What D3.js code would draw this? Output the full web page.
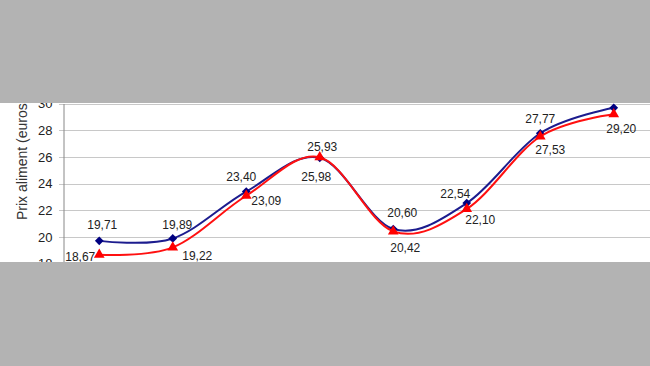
<!DOCTYPE html>
<html lang="fr">
<head>
<meta charset="UTF-8">
<script src="https://d3js.org/d3.v7.min.js"></script>
<style>
  body { margin: 0; background: #fff; font-family: "Liberation Sans", Arial, sans-serif; }
  svg { display: block; }
  .grid line { stroke: #c8c8c8; stroke-width: 1px; }
  .lbl { font-size: 12px; fill: #222; }
</style>
</head>
<body>
<div id="chart"></div>
<script>
// data
const categories = ["1", "2", "3", "4", "5", "6", "7", "8"];
const blueValues = [19.71, 19.89, 23.40, 25.93, 20.60, 22.54, 27.77, 29.68];
const redValues = [18.67, 19.22, 23.09, 25.98, 20.42, 22.10, 27.53, 29.20];
const yTicks = [18, 20, 22, 24, 26, 28, 30];

// label offsets (px) relative to each point
const blueLabelOffsets = [[3, -16], [4.5, -13.5], [-5, -15], [2.5, -11], [9, -16], [-11.5, -9], [0, -14], [0, -14]];
const redLabelOffsets = [[-19, 2], [24.5, 8.5], [20, 5], [-3.5, 20], [12, 16], [13.5, 11], [10, 13.5], [7.5, 15]];

const W = 650, H = 366;
const svg = d3.select("#chart").append("svg")
    .attr("width", W)
    .attr("height", H);

const x = d3.scaleBand()
    .domain(categories)
    .range([62.5, 650.5])
    .padding(0);

const y = d3.scaleLinear()
    .domain([18, 30])
    .range([263.7, 103.5]);

const cx = d => x(d) + x.bandwidth() / 2;

// gridlines
svg.append("g")
    .attr("class", "grid")
    .selectAll("line")
    .data(yTicks)
    .enter().append("line")
    .attr("x1", 59)
    .attr("x2", W)
    .attr("y1", d => Math.round(y(d)) + 0.5)
    .attr("y2", d => Math.round(y(d)) + 0.5);

// y axis
const yAxis = svg.append("g")
    .attr("transform", "translate(63.5,0)")
    .call(d3.axisLeft(y).tickValues(yTicks).tickSize(0).tickPadding(11).tickFormat(d3.format("d")));
yAxis.select(".domain").attr("stroke", "#888");
yAxis.selectAll("text")
    .style("font-size", "13px")
    .style("font-family", "'Liberation Sans', Arial, sans-serif")
    .attr("fill", "#222");

// axis title
svg.append("text")
    .attr("transform", "translate(27,220) rotate(-90)")
    .attr("text-anchor", "start")
    .style("font-size", "14px")
    .attr("fill", "#333")
    .text("Prix aliment (euros)");

const line = d3.line()
    .x((d, i) => cx(categories[i]))
    .y(d => y(d))
    .curve(d3.curveCardinal.tension(0));

// blue series
svg.append("path")
    .datum(blueValues)
    .attr("fill", "none")
    .attr("stroke", "#1c1c8e")
    .attr("stroke-width", 2)
    .attr("d", line);

svg.selectAll(".diamond")
    .data(blueValues)
    .enter().append("path")
    .attr("class", "diamond")
    .attr("transform", (d, i) => `translate(${cx(categories[i])},${y(d)}) rotate(45)`)
    .attr("d", d3.symbol().type(d3.symbolSquare).size(38))
    .attr("fill", "#000080");

// red series
svg.append("path")
    .datum(redValues)
    .attr("fill", "none")
    .attr("stroke", "#ff1010")
    .attr("stroke-width", 2)
    .attr("d", line);

svg.selectAll(".tri")
    .data(redValues)
    .enter().append("path")
    .attr("class", "tri")
    .attr("transform", (d, i) => `translate(${cx(categories[i])},${y(d)})`)
    .attr("d", d3.symbol().type(d3.symbolTriangle).size(50))
    .attr("fill", "#ff0000");

// data labels
const fmt = v => d3.format(".2f")(v).replace(".", ",");

svg.selectAll(".lblb")
    .data(blueValues)
    .enter().append("text")
    .attr("class", "lbl")
    .attr("text-anchor", "middle")
    .attr("dy", "0.35em")
    .attr("x", (d, i) => cx(categories[i]) + blueLabelOffsets[i][0])
    .attr("y", (d, i) => y(d) + blueLabelOffsets[i][1])
    .text(fmt);

svg.selectAll(".lblr")
    .data(redValues)
    .enter().append("text")
    .attr("class", "lbl")
    .attr("text-anchor", "middle")
    .attr("dy", "0.35em")
    .attr("x", (d, i) => cx(categories[i]) + redLabelOffsets[i][0])
    .attr("y", (d, i) => y(d) + redLabelOffsets[i][1])
    .text(fmt);

// grey bands covering top and bottom of the cropped chart
svg.append("rect").attr("x", 0).attr("y", 0).attr("width", W).attr("height", 103).attr("fill", "#b3b3b3");
svg.append("rect").attr("x", 0).attr("y", 262).attr("width", W).attr("height", H - 262).attr("fill", "#b3b3b3");
</script>
</body>
</html>
